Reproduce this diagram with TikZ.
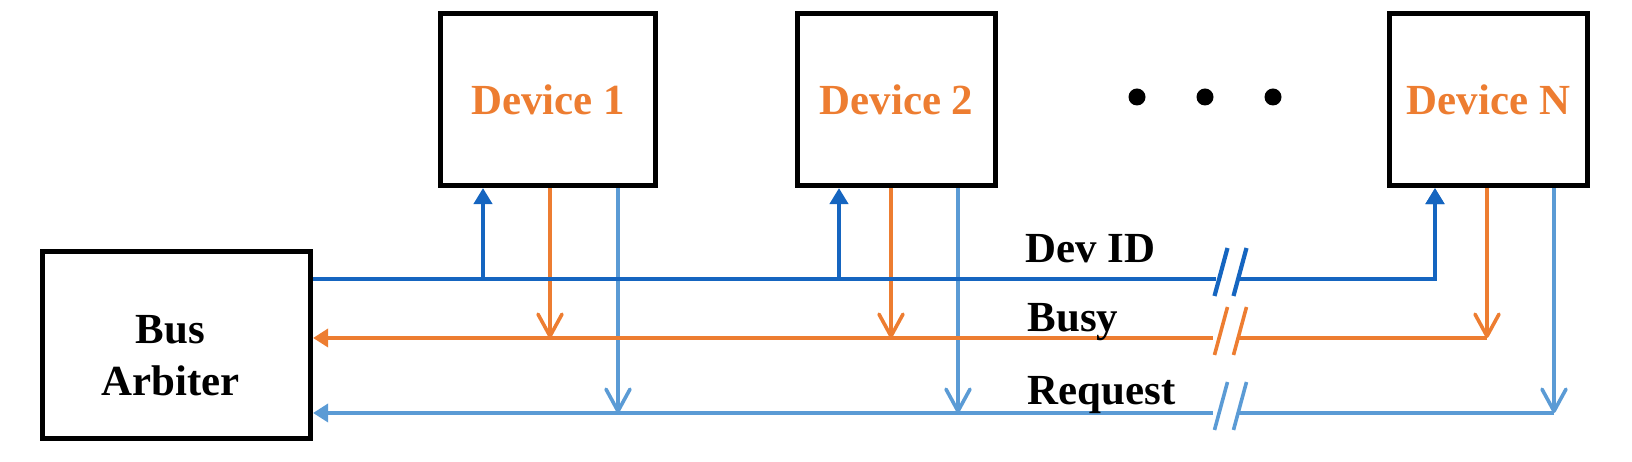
\documentclass[tikz,border=0pt]{standalone}
\usepackage{fontspec}
\setmainfont{Liberation Serif}
\usetikzlibrary{arrows.meta}
\definecolor{idblue}{HTML}{1565C0}
\definecolor{busyorange}{HTML}{ED7D31}
\definecolor{reqblue}{HTML}{5B9BD5}
\tikzset{
	unit/.style={draw, line width=0.5mm, inner sep=0pt, outer sep=0.25mm, font=\fontsize{12.2}{14.7}\selectfont\bfseries},
	device/.style={unit, text=busyorange, minimum width=1.98cm, minimum height=1.72cm},
	sig/.style={font=\fontsize{12.2}{14.7}\selectfont\bfseries, inner sep=0pt, anchor=base west},
	idline/.style={idblue, line width=0.42mm},
	busyline/.style={busyorange, line width=0.36mm},
	reqline/.style={reqblue, line width=0.36mm},
	upTip/.style={-{Triangle[length=1.6mm,width=1.8mm]}},
	downTip/.style={-{Straight Barb[length=2.2mm,width=2.4mm,round]}},
	backTip/.style={-{Triangle[length=1.5mm,width=1.8mm]}}
}

\begin{document}
\begin{tikzpicture}[x=0.01cm, y=-0.01cm]
		\useasboundingbox (0,0) rectangle (1632,462);
		\node[unit, minimum width=2.68cm, minimum height=1.87cm,
			label={[name=arbtext, align=center, xshift=-0.06cm, yshift=-0.11cm, font=\fontsize{12.2}{14.7}\selectfont\bfseries]center:Bus\\Arbiter}] (arb) at (176.5,345) {};
		\node[device, minimum width=2.15cm] (dev1) at (548,99.5) {Device 1};
		\node[device] (dev2) at (896.5,99.5) {Device 2};
		\node[device] (devN) at (1488.5,99.5) {Device N};
		\foreach \x [count=\i] in {1137,1205,1273}
			\node[circle, fill, inner sep=0pt, minimum size=1.7mm] (dot\i) at (\x,97) {};
		\coordinate (idcut) at (1216,279);
		\coordinate (idjoin) at (1237,279);
		\coordinate (busycut) at (1213,338);
		\coordinate (busyjoin) at (1238,338);
		\coordinate (reqcut) at (1213,413);
		\coordinate (reqjoin) at (1238,413);
		\foreach \dev/\xi/\xb/\xr in {dev1/483/550/618,dev2/839/891/958,devN/1435/1487/1554}{
			\coordinate (\dev-id) at (\xi,279);
			\coordinate (\dev-busy) at (\xb,338);
			\coordinate (\dev-req) at (\xr,413);
			\draw[idline, upTip] (\dev-id) -- (\dev-id |- \dev.south);
			\draw[busyline, downTip] (\dev-busy |- \dev.south) -- (\dev-busy);
			\draw[reqline, downTip] (\dev-req |- \dev.south) -- (\dev-req);
		}
		\draw[idline, upTip] (arb.east |- idcut) -- (idcut) (idjoin) -- (devN-id) -- (devN-id |- devN.south);
		\draw[busyline, backTip] (devN-busy) -- (busyjoin) (busycut) -- (arb.east |- busycut);
		\draw[reqline, backTip] (devN-req) -- (reqjoin) (reqcut) -- (arb.east |- reqcut);
		\foreach \y/\sty in {279/idline,338/busyline,413/reqline}
			\foreach \c in {1221,1240}
				\draw[\sty] ({\c-6.5},{\y+17}) -- ({\c+6.5},{\y-31});
		\node[sig] (lblid) at (1025,263) {Dev ID};
		\node[sig] (lblbusy) at (1027,332) {Busy};
		\node[sig] (lblreq) at (1027,405) {Request};
	\end{tikzpicture}
\end{document}
